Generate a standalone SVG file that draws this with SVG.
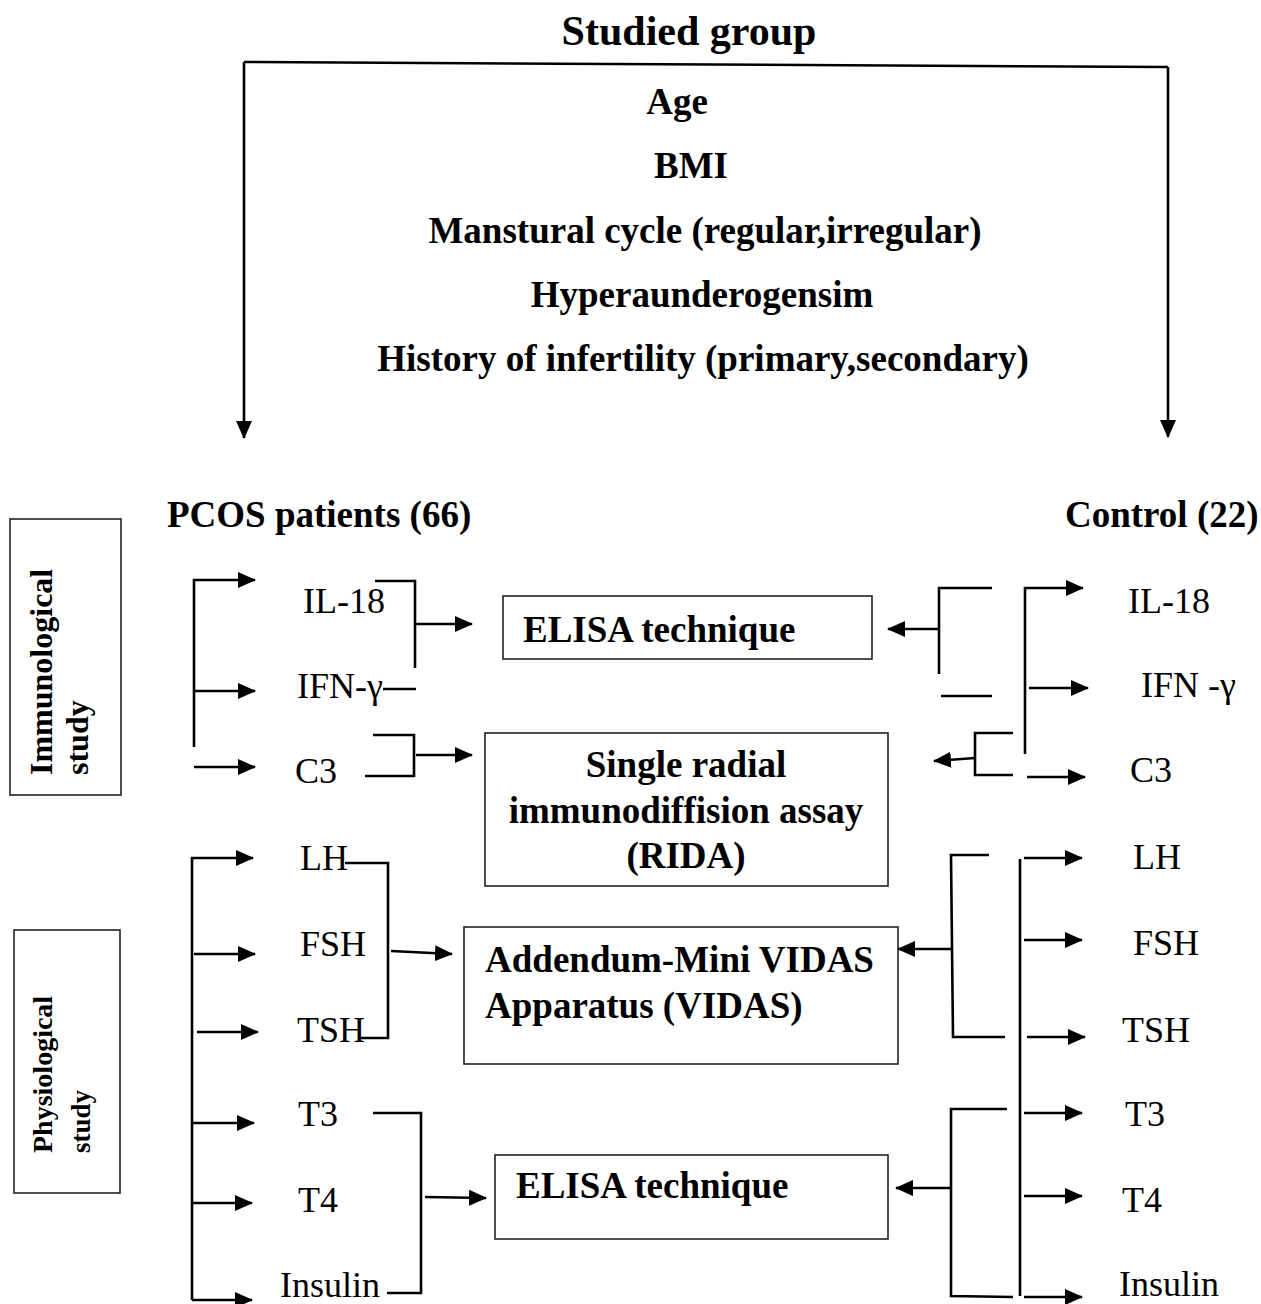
<svg xmlns="http://www.w3.org/2000/svg" width="1261" height="1304" viewBox="0 0 1261 1304">
<style>
text{font-family:"Liberation Serif","Times New Roman",serif;fill:#000}
.b{font-weight:bold}
.t{font-size:37px;font-weight:bold}
.m{font-size:36px}
.box{fill:#fff;stroke:#222;stroke-width:1.6}
.c{fill:none;stroke:#000;stroke-width:2.6}
.a{marker-end:url(#ah)}
</style>
<defs>
<marker id="ah" markerUnits="userSpaceOnUse" markerWidth="18" markerHeight="16" viewBox="0 0 18 16" refX="17" refY="8" orient="auto">
<path d="M0,0 L18,8 L0,16 z" fill="#000"/>
</marker>
</defs>
<rect width="1261" height="1304" fill="#fff"/>

<g id="title">
<text class="b" x="689" y="45" font-size="42" text-anchor="middle">Studied group</text>
<text class="t" x="677" y="114" text-anchor="middle">Age</text>
<text class="t" x="691" y="178" text-anchor="middle">BMI</text>
<text class="t" x="705" y="243" text-anchor="middle">Manstural cycle (regular,irregular)</text>
<text class="t" x="702" y="307" text-anchor="middle">Hyperaunderogensim</text>
<text class="t" x="703" y="371" text-anchor="middle">History of infertility (primary,secondary)</text>
</g>

<g id="pcos"><text class="t" x="167" y="527">PCOS patients (66)</text></g>
<g id="control"><text class="t" x="1065" y="527">Control (22)</text></g>

<g id="immunological">
<rect class="box" x="10" y="519" width="111" height="276"/>
<text class="b" font-size="32" transform="translate(52,775) rotate(-90)">Immunological</text>
<text class="b" font-size="32" transform="translate(88,775) rotate(-90)">study</text>
</g>
<g id="physiological">
<rect class="box" x="14" y="930" width="106" height="263"/>
<text class="b" font-size="28" transform="translate(52,1153) rotate(-90)">Physiological</text>
<text class="b" font-size="27" transform="translate(90,1153) rotate(-90)">study</text>
</g>

<g id="elisa1">
<rect class="box" x="503" y="596" width="369" height="63"/>
<text class="t" x="523" y="642">ELISA technique</text>
</g>
<g id="rida">
<rect class="box" x="485" y="733" width="403" height="153"/>
<text class="t" x="686" y="777" text-anchor="middle">Single radial</text>
<text class="t" x="686" y="823" text-anchor="middle">immunodiffision assay</text>
<text class="t" x="686" y="868" text-anchor="middle">(RIDA)</text>
</g>
<g id="vidas">
<rect class="box" x="464" y="927" width="434" height="137"/>
<text class="t" x="485" y="972">Addendum-Mini VIDAS</text>
<text class="t" x="485" y="1018">Apparatus (VIDAS)</text>
</g>
<g id="elisa2">
<rect class="box" x="495" y="1155" width="393" height="84"/>
<text class="t" x="516" y="1198">ELISA technique</text>
</g>

<g id="left-items">
<text class="m" x="303" y="613">IL-18</text>
<text class="m" x="297" y="698">IFN-γ</text>
<text class="m" x="295" y="783">C3</text>
<text class="m" x="300" y="870">LH</text>
<text class="m" x="300" y="956">FSH</text>
<text class="m" x="297" y="1042">TSH</text>
<text class="m" x="298" y="1126">T3</text>
<text class="m" x="298" y="1212">T4</text>
<text class="m" x="280" y="1297">Insulin</text>
</g>
<g id="right-items">
<text class="m" x="1128" y="613">IL-18</text>
<text class="m" x="1141" y="697">IFN -γ</text>
<text class="m" x="1130" y="782">C3</text>
<text class="m" x="1133" y="869">LH</text>
<text class="m" x="1133" y="955">FSH</text>
<text class="m" x="1122" y="1042">TSH</text>
<text class="m" x="1125" y="1126">T3</text>
<text class="m" x="1122" y="1212">T4</text>
<text class="m" x="1119" y="1296">Insulin</text>
</g>

<g id="connectors">
<path class="c" d="M244,62 L1168,67"/>
<path class="c a" d="M244,62 L244,438"/>
<path class="c a" d="M1168,67 L1168,437"/>

<path class="c a" d="M194,747 L194,580 L255,580"/>
<path class="c a" d="M194,691 L255,691"/>
<path class="c a" d="M194,767 L255,767"/>
<path class="c" d="M375,581 L415,581 L415,668"/>
<path class="c a" d="M416,624 L472,624"/>
<path class="c" d="M383,689 L416,689"/>
<path class="c" d="M373,735 L414,735 L414,776 L365,776"/>
<path class="c a" d="M416,755 L472,755"/>

<path class="c" d="M992,588 L939,588 L939,674"/>
<path class="c a" d="M939,629 L888,629"/>
<path class="c" d="M941,696 L992,696"/>
<path class="c a" d="M1025,754 L1025,588 L1083,588"/>
<path class="c a" d="M1029,688 L1088,688"/>
<path class="c a" d="M1027,777 L1085,777"/>
<path class="c" d="M1013,733 L975,733 L975,775 L1013,775"/>
<path class="c a" d="M975,758 L934,761"/>

<path class="c a" d="M192,1300 L192,858 L253,858"/>
<path class="c a" d="M192,1300 L252,1300"/>
<path class="c a" d="M194,954 L255,954"/>
<path class="c a" d="M197,1032 L258,1032"/>
<path class="c a" d="M192,1123 L254,1123"/>
<path class="c a" d="M192,1203 L252,1203"/>
<path class="c" d="M345,863 L388,863 L388,1038 L358,1038"/>
<path class="c a" d="M391,951 L452,954"/>
<path class="c" d="M373,1113 L421,1113 L421,1293 L387,1293"/>
<path class="c a" d="M425,1197 L486,1198"/>

<path class="c" d="M989,855 L951,855 L953,1037 L1005,1037"/>
<path class="c a" d="M952,949 L898,949"/>
<path class="c" d="M1020,859 L1020,1296"/>
<path class="c a" d="M1024,858 L1082,858"/>
<path class="c a" d="M1024,940 L1082,940"/>
<path class="c a" d="M1027,1037 L1085,1037"/>
<path class="c a" d="M1024,1113 L1082,1113"/>
<path class="c a" d="M1024,1196 L1082,1196"/>
<path class="c a" d="M1024,1297 L1082,1297"/>
<path class="c" d="M1007,1109 L951,1109 L951,1296 L1013,1297"/>
<path class="c a" d="M951,1188 L896,1188"/>
</g>
</svg>
